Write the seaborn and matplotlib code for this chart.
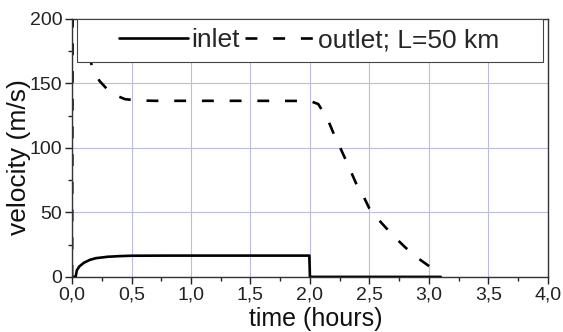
import numpy as np
import pandas as pd
import matplotlib
matplotlib.use("Agg")
import matplotlib.pyplot as plt
from matplotlib.patches import Rectangle
from matplotlib.ticker import MultipleLocator, FuncFormatter
import seaborn as sns

# values
inlet_t = [0.0, 0.03, 0.04, 0.06, 0.1, 0.15, 0.2, 0.3, 0.4, 0.5, 0.8, 1.5, 1.995, 2.0, 2.5, 3.1]
inlet_v = [0.0, 0.0, 5.0, 8.0, 11.0, 13.2, 14.5, 15.6, 16.1, 16.4, 16.5, 16.5, 16.5, 0.0, 0.0, 0.0]

outlet_t = [0.0, 0.006, 0.08, 0.165, 0.23, 0.3, 0.345, 0.445, 0.55, 0.7, 1.0, 1.5, 2.0, 2.07,
            2.15, 2.2, 2.3, 2.4, 2.45, 2.5, 2.6, 2.7, 2.8, 2.9, 3.0, 3.11]
outlet_v = [0.0, 260.0, 200.0, 164.0, 152.0, 145.0, 141.6, 137.8, 136.8, 136.5, 136.5, 136.5, 136.4, 134.0,
            122.0, 111.0, 91.0, 70.0, 62.5, 53.0, 42.0, 32.0, 23.0, 15.0, 8.5, 2.5]

labels = ["inlet", "outlet; L=50 km"]

df = pd.concat([
    pd.DataFrame({"t": inlet_t, "v": inlet_v, "series": labels[0]}),
    pd.DataFrame({"t": outlet_t, "v": outlet_v, "series": labels[1]}),
])

sns.set_style("white")
plt.rcParams["font.family"] = ["Liberation Sans", "DejaVu Sans"]

fig = plt.figure(figsize=(5.63, 3.32), dpi=100)
ax = fig.add_axes([0.128, 0.166, 0.845, 0.777])

sns.lineplot(data=df, x="t", y="v", hue="series", style="series",
             palette=["black", "black"], dashes={labels[0]: "", labels[1]: (4.5, 6)},
             sort=False, estimator=None, linewidth=1.9, ax=ax)

ax.set_xlim(0, 4)
ax.set_ylim(0, 200)
ax.xaxis.set_major_locator(MultipleLocator(0.5))
ax.xaxis.set_minor_locator(MultipleLocator(0.25))
ax.yaxis.set_major_locator(MultipleLocator(50))
ax.yaxis.set_minor_locator(MultipleLocator(25))
ax.xaxis.set_major_formatter(FuncFormatter(lambda x, p: f"{x:.1f}".replace(".", ",")))
ax.grid(True, which="major", color="#bcbce0", linewidth=0.8)
ax.tick_params(which="major", direction="out", length=5, width=1, labelsize=14,
               colors="#222222", bottom=True, left=True, pad=2)
ax.tick_params(which="minor", direction="out", length=3, width=1,
               bottom=True, left=True)
for s in ax.spines.values():
    s.set_color("#333333")
    s.set_linewidth(1)

ax.set_xlabel("time (hours)", fontsize=18, color="#111111")
ax.set_ylabel("velocity (m/s)", fontsize=19, color="#111111")
ax.xaxis.set_label_coords(0.513, -0.115)
ax.yaxis.set_label_coords(-0.087, 0.465)

# legend box spanning nearly the full width, content centred
box = Rectangle((0.0105, 0.833), 0.979, 0.167, transform=ax.transAxes,
                facecolor="white", edgecolor="#444444", linewidth=0.8, zorder=4)
ax.add_patch(box)
leg = ax.legend(ncol=2, loc="center", bbox_to_anchor=(0.498, 0.9165), fontsize=19,
                frameon=False, handlelength=2.6, handletextpad=0.15, columnspacing=0.2,
                borderpad=0, title=None)
leg.set_zorder(5)

fig.savefig("out.png", dpi=100)
